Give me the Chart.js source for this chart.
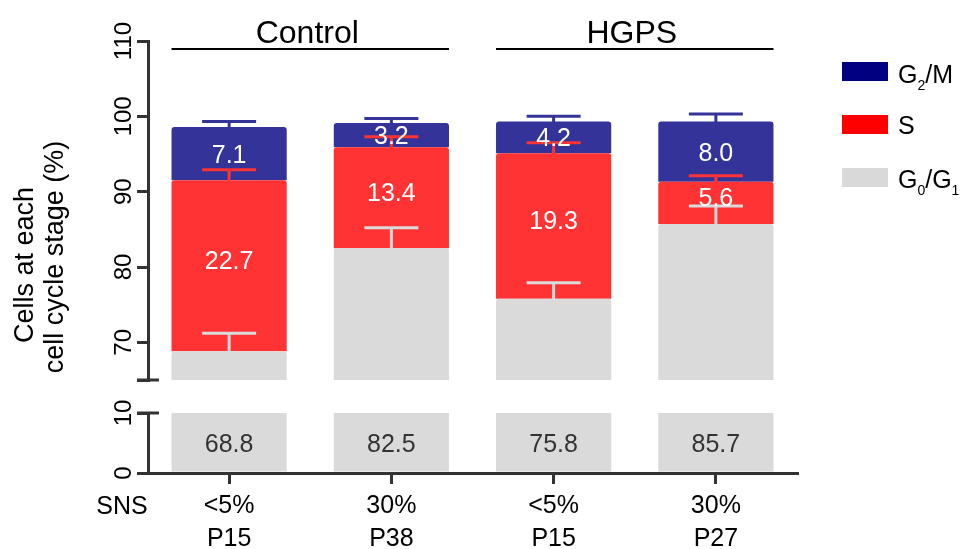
<!DOCTYPE html>
<html><head><meta charset="utf-8">
<script src="https://cdn.jsdelivr.net/npm/chart.js@4.4.1/dist/chart.umd.min.js"></script>
<style>
html,body{margin:0;padding:0;background:#fff;}
#wrap{position:relative;width:966px;height:549px;overflow:hidden;}
canvas{position:absolute;left:0;top:0;}
</style>
</head><body>
<div id="wrap"><canvas id="top" width="966" height="549"></canvas><canvas id="bot" width="966" height="549"></canvas></div>
<script>
// ---- data ----
const categories = [['<5%','P15'],['30%','P38'],['<5%','P15'],['30%','P27']];
const groups = ['Control','HGPS'];
const rowLabel = 'SNS';
const seriesNames = ['G0/G1','S','G2/M'];
const g0g1 = [68.8, 82.5, 75.8, 85.7];
const sPhase = [22.7, 13.4, 19.3, 5.6];
const g2m = [7.1, 3.2, 4.2, 8.0];
const g0g1Err = [2.4, 2.7, 2.1, 2.4];
const sErr = [1.4, 1.4, 1.4, 0.8];
const g2mErr = [0.7, 0.6, 0.7, 1.0];
const upperTicks = [70, 80, 90, 100, 110];
const lowerTicks = [0, 10];
const upperRange = [65, 110];
const lowerRange = [0, 10];
const yTitle = ['Cells at each', 'cell cycle stage (%)'];

// ---- style ----
const FONT = "'Liberation Sans', Arial, Helvetica, sans-serif";
const COL = {g0:'#dadada', s:'#ff3333', g2m:'#333399', axis:'#333333'};
const LEG = {g0:'#d9d9d9', s:'#ff0000', g2m:'#000080'};
const Y_AXIS_W = 148, RIGHT_PAD = 169;
const radius = {topLeft:3, topRight:3, bottomLeft:0, bottomRight:0};

function rotText(ctx, text, x, y, size, color) {
  ctx.save();
  ctx.translate(x, y);
  ctx.rotate(-Math.PI/2);
  ctx.font = size + 'px ' + FONT;
  ctx.fillStyle = color;
  ctx.textAlign = 'center';
  ctx.textBaseline = 'alphabetic';
  ctx.fillText(text, 0, 0);
  ctx.restore();
}
function line(ctx, x1, y1, x2, y2, w, c) {
  ctx.save(); ctx.beginPath(); ctx.moveTo(x1,y1); ctx.lineTo(x2,y2);
  ctx.lineWidth = w; ctx.strokeStyle = c; ctx.stroke(); ctx.restore();
}
function subText(ctx, parts, x, baseline, size) {
  // parts: [text, isSub]
  let cx = x;
  ctx.save();
  ctx.fillStyle = '#000';
  ctx.textAlign = 'left';
  ctx.textBaseline = 'alphabetic';
  for (const [t, sub] of parts) {
    ctx.font = (sub ? Math.round(size*0.55) : size) + 'px ' + FONT;
    ctx.fillText(t, cx, baseline + (sub ? 7 : 0));
    cx += ctx.measureText(t).width + (sub ? 0 : 0);
  }
  ctx.restore();
}

const upperPlugin = {
  id: 'upperDecor',
  afterDatasetsDraw(chart) {
    const ctx = chart.ctx, y = chart.scales.y;
    const sets = [[g0g1, g0g1Err, COL.g0], [sPhase, sErr, COL.s], [g2m, g2mErr, COL.g2m]];
    const metas = [0,1,2].map(i => chart.getDatasetMeta(i));
    // error bars
    ctx.save();
    ctx.beginPath(); ctx.rect(chart.chartArea.left, 0, chart.width, chart.chartArea.bottom); ctx.clip();
    for (let i = 0; i < categories.length; i++) {
      let cum = 0;
      sets.forEach(([vals, errs, col], k) => {
        cum += vals[i];
        const x = metas[k].data[i].x;
        const py = y.getPixelForValue(cum), pe = y.getPixelForValue(cum + errs[i]);
        line(ctx, x, py + 1, x, pe, 3, col);
        line(ctx, x - 27, pe, x + 27, pe, 3, col);
      });
    }
    ctx.restore();
    // value labels
    ctx.save();
    ctx.font = '25px ' + FONT;
    ctx.fillStyle = '#fff';
    ctx.textAlign = 'center';
    ctx.textBaseline = 'alphabetic';
    const offs = [0, -6, 0];
    for (let k = 1; k < 3; k++) {
      const vals = sets[k][0];
      metas[k].data.forEach((bar, i) => {
        const c = (bar.y + bar.base) / 2 + offs[k];
        ctx.fillText(vals[i].toFixed(1), bar.x, c + 9);
      });
    }
    ctx.restore();
  },
  afterDraw(chart) {
    const ctx = chart.ctx, y = chart.scales.y, area = chart.chartArea;
    // tick labels
    upperTicks.forEach(v => rotText(ctx, String(v), 131, y.getPixelForValue(v), 24, '#000'));
    // break cap
    line(ctx, 137, y.getPixelForValue(upperRange[0]), 159, y.getPixelForValue(upperRange[0]), 3, COL.axis);
    // axis title
    rotText(ctx, yTitle[0], 33, 265, 27, '#000');
    rotText(ctx, yTitle[1], 63, 257, 27, '#000');
    // group headers
    const m = chart.getDatasetMeta(0).data;
    const half = m[0].width / 2;
    [[0,1],[2,3]].forEach(([a,b], gi) => {
      const x1 = m[a].x - half, x2 = m[b].x + half;
      line(ctx, x1, 49, x2, 49, 2, '#000');
      ctx.save();
      ctx.font = '32px ' + FONT; ctx.fillStyle = '#000';
      ctx.textAlign = 'center'; ctx.textBaseline = 'alphabetic';
      ctx.fillText(groups[gi], (x1 + x2) / 2 - 3, 43);
      ctx.restore();
    });
    // legend
    const legend = [
      [LEG.g2m, 62, [['G',0],['2',1],['/M',0]], 83],
      [LEG.s, 115, [['S',0]], 134],
      [LEG.g0, 168, [['G',0],['0',1],['/G',0],['1',1]], 188]
    ];
    legend.forEach(([c, top, parts, base]) => {
      ctx.save(); ctx.fillStyle = c; ctx.fillRect(842, top, 46, 19); ctx.restore();
      subText(ctx, parts, 898, base, 25);
    });
  }
};

const lowerPlugin = {
  id: 'lowerDecor',
  afterDatasetsDraw(chart) {
    const ctx = chart.ctx, y = chart.scales.y;
    const meta = chart.getDatasetMeta(0);
    const c = (y.getPixelForValue(lowerRange[0]) + y.getPixelForValue(lowerRange[1])) / 2;
    ctx.save();
    ctx.font = '25px ' + FONT; ctx.fillStyle = '#333';
    ctx.textAlign = 'center'; ctx.textBaseline = 'alphabetic';
    meta.data.forEach((bar, i) => ctx.fillText(g0g1[i].toFixed(1), bar.x, c + 9));
    ctx.restore();
  },
  afterDraw(chart) {
    const ctx = chart.ctx, y = chart.scales.y;
    lowerTicks.forEach(v => rotText(ctx, String(v), 131, y.getPixelForValue(v), 24, '#000'));
    line(ctx, 137, y.getPixelForValue(lowerRange[1]), 159, y.getPixelForValue(lowerRange[1]), 3, COL.axis);
    ctx.save();
    ctx.font = '25px ' + FONT; ctx.fillStyle = '#000';
    ctx.textAlign = 'center'; ctx.textBaseline = 'middle';
    ctx.fillText(rowLabel, 122, 507);
    ctx.restore();
  }
};

const axisGrid = {drawOnChartArea:false, drawTicks:true, tickLength:11, color:COL.axis, lineWidth:3};
const axisBorder = {display:true, color:COL.axis, width:3};

new Chart(document.getElementById('top'), {
  type: 'bar',
  data: {
    labels: categories,
    datasets: [
      {label: seriesNames[0], data: g0g1, backgroundColor: COL.g0, clip: 0, borderRadius: radius},
      {label: seriesNames[1], data: sPhase, backgroundColor: COL.s, clip: 0, borderRadius: radius},
      {label: seriesNames[2], data: g2m, backgroundColor: COL.g2m, clip: 0, borderRadius: radius}
    ]
  },
  options: {
    responsive: false, animation: false, devicePixelRatio: 1,
    layout: {padding: {left: 0, right: RIGHT_PAD, top: 41, bottom: 169}, autoPadding: false},
    plugins: {legend: {display: false}, tooltip: {enabled: false}},
    datasets: {bar: {categoryPercentage: 1, barPercentage: 0.71}},
    scales: {
      x: {display: false, stacked: true},
      y: {
        stacked: true, min: upperRange[0], max: upperRange[1],
        afterBuildTicks: s => { s.ticks = [upperRange[0], ...upperTicks].map(v => ({value: v})); },
        afterFit: s => { s.width = Y_AXIS_W; },
        ticks: {display: false},
        grid: axisGrid, border: axisBorder
      }
    }
  },
  plugins: [upperPlugin]
});

new Chart(document.getElementById('bot'), {
  type: 'bar',
  data: {
    labels: categories,
    datasets: [
      {label: seriesNames[0], data: g0g1, backgroundColor: COL.g0, clip: 0}
    ]
  },
  options: {
    responsive: false, animation: false, devicePixelRatio: 1,
    layout: {padding: {left: 0, right: RIGHT_PAD, top: 413, bottom: 0}, autoPadding: false},
    plugins: {legend: {display: false}, tooltip: {enabled: false}},
    datasets: {bar: {categoryPercentage: 1, barPercentage: 0.71}},
    scales: {
      x: {
        stacked: true,
        afterFit: s => { s.height = 76; },
        grid: Object.assign({}, axisGrid, {offset: false}),
        border: axisBorder,
        ticks: {color: '#000', font: {family: FONT, size: 25, lineHeight: 1.32}, padding: 6, maxRotation: 0, minRotation: 0, autoSkip: false}
      },
      y: {
        stacked: true, min: lowerRange[0], max: lowerRange[1],
        afterBuildTicks: s => { s.ticks = lowerTicks.map(v => ({value: v})); },
        afterFit: s => { s.width = Y_AXIS_W; },
        ticks: {display: false},
        grid: axisGrid, border: axisBorder
      }
    }
  },
  plugins: [lowerPlugin]
});
</script>
</body></html>
